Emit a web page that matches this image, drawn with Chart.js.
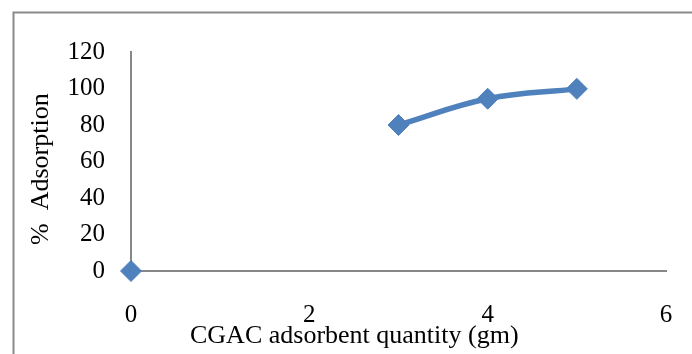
<!DOCTYPE html>
<html>
<head>
<meta charset="utf-8">
<script src="https://cdn.jsdelivr.net/npm/chart.js@4/dist/chart.umd.min.js"></script>
<style>
  html, body { margin: 0; padding: 0; background: #ffffff; }
  #wrap { width: 692px; height: 354px; position: relative; }
</style>
</head>
<body>
<div id="wrap"><canvas id="chart"></canvas></div>
<script>
// Adsorbent dose (gm) and removal (%); blank readings are left as null
const quantity = [0, 1, 2, 3, 4, 5];
const adsorption = [0, null, null, 80, 94.4, 99.8];

const xTicks = [0, 2, 4, 6];
const yTicks = [0, 20, 40, 60, 80, 100, 120];

const xTitle = 'CGAC adsorbent quantity (gm)';
const yTitle = '%  Adsorption';

const BLUE = '#4F81BD';
const AXIS = '#878787';
const SERIF = '"Liberation Serif", "Times New Roman", serif';

const points = quantity.map((q, i) => ({ x: q, y: adsorption[i] }));

// Outer frame of the chart object
const framePlugin = {
  id: 'frame',
  beforeDraw(chart) {
    const ctx = chart.ctx;
    ctx.save();
    ctx.strokeStyle = '#8a8a8a';
    ctx.lineWidth = 2;
    ctx.beginPath();
    ctx.moveTo(13.5, chart.height + 2);
    ctx.lineTo(13.5, 12.5);
    ctx.lineTo(chart.width + 2, 12.5);
    ctx.stroke();
    ctx.restore();
  }
};

// Axis titles
const axisTitlePlugin = {
  id: 'axisTitles',
  afterDraw(chart) {
    const ctx = chart.ctx;
    ctx.save();
    ctx.fillStyle = '#000000';
    ctx.font = '26px ' + SERIF;
    ctx.textAlign = 'left';
    ctx.textBaseline = 'alphabetic';
    ctx.fillText(xTitle, 190, 343);
    ctx.translate(47.5, 245);
    ctx.rotate(-Math.PI / 2);
    ctx.fillText(yTitle, 0, 0);
    ctx.restore();
  }
};

new Chart(document.getElementById('chart'), {
  type: 'scatter',
  data: {
    datasets: [{
      data: points,
      showLine: true,
      spanGaps: false,
      clip: false,
      tension: 0.4,
      borderColor: BLUE,
      backgroundColor: BLUE,
      borderWidth: 5.5,
      pointStyle: 'rectRot',
      pointRadius: 10.5,
      pointHoverRadius: 10.5,
      pointBackgroundColor: BLUE,
      pointBorderColor: BLUE,
      pointBorderWidth: 1
    }]
  },
  options: {
    responsive: true,
    maintainAspectRatio: false,
    animation: false,
    layout: { padding: { top: 52, right: 26, bottom: 0, left: 0 } },
    plugins: {
      legend: { display: false },
      tooltip: { enabled: false }
    },
    scales: {
      x: {
        type: 'linear',
        min: 0,
        max: 6,
        afterFit(scale) {
          scale.height = 83;
          scale.paddingLeft = 0;
          scale.paddingRight = 0;
        },
        afterBuildTicks(scale) { scale.ticks = xTicks.map(v => ({ value: v })); },
        grid: { display: false, drawTicks: false },
        border: { display: true, color: AXIS, width: 2 },
        ticks: {
          color: '#000000',
          padding: 29,
          font: { family: SERIF, size: 25 }
        }
      },
      y: {
        type: 'linear',
        min: 0,
        max: 120,
        afterFit(scale) {
          scale.width = 131;
          scale.paddingTop = 0;
          scale.paddingBottom = 0;
        },
        afterBuildTicks(scale) { scale.ticks = yTicks.map(v => ({ value: v })); },
        grid: { display: false, drawTicks: false },
        border: { display: true, color: AXIS, width: 2 },
        ticks: {
          color: '#000000',
          padding: 26,
          font: { family: SERIF, size: 25 }
        }
      }
    }
  },
  plugins: [framePlugin, axisTitlePlugin]
});
</script>
</body>
</html>
